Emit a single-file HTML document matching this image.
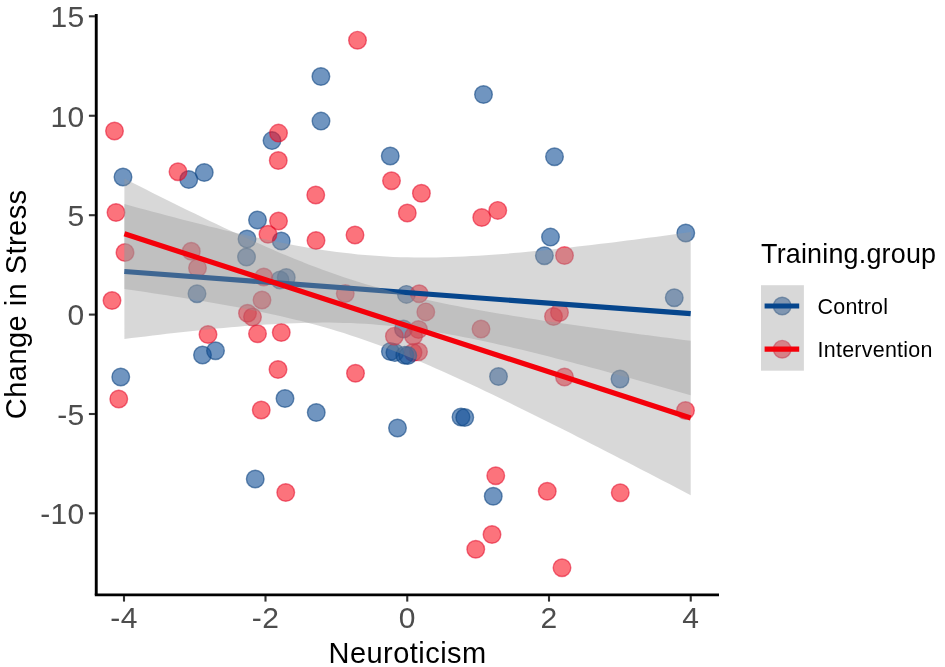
<!DOCTYPE html>
<html lang="en"><head><meta charset="utf-8"><title>Change in Stress vs Neuroticism</title>
<style>html,body{margin:0;padding:0;background:#fff}body{width:945px;height:667px;overflow:hidden}svg{display:block}</style>
</head><body>
<svg width="945" height="667" viewBox="0 0 945 667" font-family="Liberation Sans, sans-serif">
<rect width="945" height="667" fill="#fff"/>
<g id="pts">
<circle cx="418.5" cy="351.8" r="8.8" fill="rgba(250,13,30,0.58)" stroke="rgba(225,10,40,0.55)" stroke-width="1.4"/>
<circle cx="413" cy="352.5" r="8.8" fill="rgba(250,13,30,0.58)" stroke="rgba(225,10,40,0.55)" stroke-width="1.4"/>
<circle cx="123" cy="177" r="8.8" fill="rgba(16,78,150,0.6)" stroke="rgba(16,70,130,0.6)" stroke-width="1.4"/>
<circle cx="188.75" cy="179.5" r="8.8" fill="rgba(16,78,150,0.6)" stroke="rgba(16,70,130,0.6)" stroke-width="1.4"/>
<circle cx="204.25" cy="172.5" r="8.8" fill="rgba(16,78,150,0.6)" stroke="rgba(16,70,130,0.6)" stroke-width="1.4"/>
<circle cx="272" cy="140.6" r="8.8" fill="rgba(16,78,150,0.6)" stroke="rgba(16,70,130,0.6)" stroke-width="1.4"/>
<circle cx="320.9" cy="76.5" r="8.8" fill="rgba(16,78,150,0.6)" stroke="rgba(16,70,130,0.6)" stroke-width="1.4"/>
<circle cx="321" cy="121.1" r="8.8" fill="rgba(16,78,150,0.6)" stroke="rgba(16,70,130,0.6)" stroke-width="1.4"/>
<circle cx="257.5" cy="220" r="8.8" fill="rgba(16,78,150,0.6)" stroke="rgba(16,70,130,0.6)" stroke-width="1.4"/>
<circle cx="281.25" cy="241" r="8.8" fill="rgba(16,78,150,0.6)" stroke="rgba(16,70,130,0.6)" stroke-width="1.4"/>
<circle cx="247" cy="239" r="8.8" fill="rgba(16,78,150,0.6)" stroke="rgba(16,70,130,0.6)" stroke-width="1.4"/>
<circle cx="246.5" cy="257" r="8.8" fill="rgba(16,78,150,0.6)" stroke="rgba(16,70,130,0.6)" stroke-width="1.4"/>
<circle cx="197" cy="293.75" r="8.8" fill="rgba(16,78,150,0.6)" stroke="rgba(16,70,130,0.6)" stroke-width="1.4"/>
<circle cx="280" cy="280" r="8.8" fill="rgba(16,78,150,0.6)" stroke="rgba(16,70,130,0.6)" stroke-width="1.4"/>
<circle cx="286.25" cy="277.5" r="8.8" fill="rgba(16,78,150,0.6)" stroke="rgba(16,70,130,0.6)" stroke-width="1.4"/>
<circle cx="202.5" cy="355" r="8.8" fill="rgba(16,78,150,0.6)" stroke="rgba(16,70,130,0.6)" stroke-width="1.4"/>
<circle cx="215.5" cy="350.75" r="8.8" fill="rgba(16,78,150,0.6)" stroke="rgba(16,70,130,0.6)" stroke-width="1.4"/>
<circle cx="120.75" cy="377" r="8.8" fill="rgba(16,78,150,0.6)" stroke="rgba(16,70,130,0.6)" stroke-width="1.4"/>
<circle cx="285" cy="398.5" r="8.8" fill="rgba(16,78,150,0.6)" stroke="rgba(16,70,130,0.6)" stroke-width="1.4"/>
<circle cx="316.25" cy="412.5" r="8.8" fill="rgba(16,78,150,0.6)" stroke="rgba(16,70,130,0.6)" stroke-width="1.4"/>
<circle cx="255.25" cy="479" r="8.8" fill="rgba(16,78,150,0.6)" stroke="rgba(16,70,130,0.6)" stroke-width="1.4"/>
<circle cx="390.25" cy="156" r="8.8" fill="rgba(16,78,150,0.6)" stroke="rgba(16,70,130,0.6)" stroke-width="1.4"/>
<circle cx="483.5" cy="94.5" r="8.8" fill="rgba(16,78,150,0.6)" stroke="rgba(16,70,130,0.6)" stroke-width="1.4"/>
<circle cx="554.5" cy="156.75" r="8.8" fill="rgba(16,78,150,0.6)" stroke="rgba(16,70,130,0.6)" stroke-width="1.4"/>
<circle cx="550.5" cy="237.1" r="8.8" fill="rgba(16,78,150,0.6)" stroke="rgba(16,70,130,0.6)" stroke-width="1.4"/>
<circle cx="544.4" cy="255.75" r="8.8" fill="rgba(16,78,150,0.6)" stroke="rgba(16,70,130,0.6)" stroke-width="1.4"/>
<circle cx="685.75" cy="233" r="8.8" fill="rgba(16,78,150,0.6)" stroke="rgba(16,70,130,0.6)" stroke-width="1.4"/>
<circle cx="674.25" cy="297.75" r="8.8" fill="rgba(16,78,150,0.6)" stroke="rgba(16,70,130,0.6)" stroke-width="1.4"/>
<circle cx="406.4" cy="294.4" r="8.8" fill="rgba(16,78,150,0.6)" stroke="rgba(16,70,130,0.6)" stroke-width="1.4"/>
<circle cx="403.5" cy="329" r="8.8" fill="rgba(16,78,150,0.6)" stroke="rgba(16,70,130,0.6)" stroke-width="1.4"/>
<circle cx="390.4" cy="351.5" r="8.8" fill="rgba(16,78,150,0.6)" stroke="rgba(16,70,130,0.6)" stroke-width="1.4"/>
<circle cx="394.9" cy="352.6" r="8.8" fill="rgba(16,78,150,0.6)" stroke="rgba(16,70,130,0.6)" stroke-width="1.4"/>
<circle cx="404.8" cy="355.2" r="8.8" fill="rgba(16,78,150,0.6)" stroke="rgba(16,70,130,0.6)" stroke-width="1.4"/>
<circle cx="407.8" cy="355.6" r="8.8" fill="rgba(16,78,150,0.6)" stroke="rgba(16,70,130,0.6)" stroke-width="1.4"/>
<circle cx="498.5" cy="376.5" r="8.8" fill="rgba(16,78,150,0.6)" stroke="rgba(16,70,130,0.6)" stroke-width="1.4"/>
<circle cx="620" cy="379" r="8.8" fill="rgba(16,78,150,0.6)" stroke="rgba(16,70,130,0.6)" stroke-width="1.4"/>
<circle cx="397.5" cy="428" r="8.8" fill="rgba(16,78,150,0.6)" stroke="rgba(16,70,130,0.6)" stroke-width="1.4"/>
<circle cx="461" cy="417" r="8.8" fill="rgba(16,78,150,0.6)" stroke="rgba(16,70,130,0.6)" stroke-width="1.4"/>
<circle cx="464.75" cy="417.5" r="8.8" fill="rgba(16,78,150,0.6)" stroke="rgba(16,70,130,0.6)" stroke-width="1.4"/>
<circle cx="493.25" cy="496.25" r="8.8" fill="rgba(16,78,150,0.6)" stroke="rgba(16,70,130,0.6)" stroke-width="1.4"/>
<circle cx="114.5" cy="131" r="8.8" fill="rgba(250,13,30,0.58)" stroke="rgba(225,10,40,0.55)" stroke-width="1.4"/>
<circle cx="116" cy="212.5" r="8.8" fill="rgba(250,13,30,0.58)" stroke="rgba(225,10,40,0.55)" stroke-width="1.4"/>
<circle cx="125" cy="252.5" r="8.8" fill="rgba(250,13,30,0.58)" stroke="rgba(225,10,40,0.55)" stroke-width="1.4"/>
<circle cx="112" cy="300.5" r="8.8" fill="rgba(250,13,30,0.58)" stroke="rgba(225,10,40,0.55)" stroke-width="1.4"/>
<circle cx="118.75" cy="399" r="8.8" fill="rgba(250,13,30,0.58)" stroke="rgba(225,10,40,0.55)" stroke-width="1.4"/>
<circle cx="178" cy="171.75" r="8.8" fill="rgba(250,13,30,0.58)" stroke="rgba(225,10,40,0.55)" stroke-width="1.4"/>
<circle cx="191.25" cy="251.25" r="8.8" fill="rgba(250,13,30,0.58)" stroke="rgba(225,10,40,0.55)" stroke-width="1.4"/>
<circle cx="197.5" cy="268" r="8.8" fill="rgba(250,13,30,0.58)" stroke="rgba(225,10,40,0.55)" stroke-width="1.4"/>
<circle cx="208" cy="334.5" r="8.8" fill="rgba(250,13,30,0.58)" stroke="rgba(225,10,40,0.55)" stroke-width="1.4"/>
<circle cx="278.5" cy="133.1" r="8.8" fill="rgba(250,13,30,0.58)" stroke="rgba(225,10,40,0.55)" stroke-width="1.4"/>
<circle cx="278.25" cy="160.5" r="8.8" fill="rgba(250,13,30,0.58)" stroke="rgba(225,10,40,0.55)" stroke-width="1.4"/>
<circle cx="278.5" cy="221" r="8.8" fill="rgba(250,13,30,0.58)" stroke="rgba(225,10,40,0.55)" stroke-width="1.4"/>
<circle cx="268" cy="234.25" r="8.8" fill="rgba(250,13,30,0.58)" stroke="rgba(225,10,40,0.55)" stroke-width="1.4"/>
<circle cx="315.75" cy="195" r="8.8" fill="rgba(250,13,30,0.58)" stroke="rgba(225,10,40,0.55)" stroke-width="1.4"/>
<circle cx="316" cy="240.5" r="8.8" fill="rgba(250,13,30,0.58)" stroke="rgba(225,10,40,0.55)" stroke-width="1.4"/>
<circle cx="263.75" cy="277" r="8.8" fill="rgba(250,13,30,0.58)" stroke="rgba(225,10,40,0.55)" stroke-width="1.4"/>
<circle cx="262" cy="300" r="8.8" fill="rgba(250,13,30,0.58)" stroke="rgba(225,10,40,0.55)" stroke-width="1.4"/>
<circle cx="247.5" cy="313.25" r="8.8" fill="rgba(250,13,30,0.58)" stroke="rgba(225,10,40,0.55)" stroke-width="1.4"/>
<circle cx="252.5" cy="317" r="8.8" fill="rgba(250,13,30,0.58)" stroke="rgba(225,10,40,0.55)" stroke-width="1.4"/>
<circle cx="257.5" cy="333.75" r="8.8" fill="rgba(250,13,30,0.58)" stroke="rgba(225,10,40,0.55)" stroke-width="1.4"/>
<circle cx="281.25" cy="332.5" r="8.8" fill="rgba(250,13,30,0.58)" stroke="rgba(225,10,40,0.55)" stroke-width="1.4"/>
<circle cx="278" cy="369.5" r="8.8" fill="rgba(250,13,30,0.58)" stroke="rgba(225,10,40,0.55)" stroke-width="1.4"/>
<circle cx="261.25" cy="410" r="8.8" fill="rgba(250,13,30,0.58)" stroke="rgba(225,10,40,0.55)" stroke-width="1.4"/>
<circle cx="285.75" cy="492.5" r="8.8" fill="rgba(250,13,30,0.58)" stroke="rgba(225,10,40,0.55)" stroke-width="1.4"/>
<circle cx="357.5" cy="40.2" r="8.8" fill="rgba(250,13,30,0.58)" stroke="rgba(225,10,40,0.55)" stroke-width="1.4"/>
<circle cx="355" cy="235" r="8.8" fill="rgba(250,13,30,0.58)" stroke="rgba(225,10,40,0.55)" stroke-width="1.4"/>
<circle cx="345.25" cy="293.6" r="8.8" fill="rgba(250,13,30,0.58)" stroke="rgba(225,10,40,0.55)" stroke-width="1.4"/>
<circle cx="355.5" cy="373.25" r="8.8" fill="rgba(250,13,30,0.58)" stroke="rgba(225,10,40,0.55)" stroke-width="1.4"/>
<circle cx="391.5" cy="180.75" r="8.8" fill="rgba(250,13,30,0.58)" stroke="rgba(225,10,40,0.55)" stroke-width="1.4"/>
<circle cx="421.4" cy="193.25" r="8.8" fill="rgba(250,13,30,0.58)" stroke="rgba(225,10,40,0.55)" stroke-width="1.4"/>
<circle cx="407.3" cy="213" r="8.8" fill="rgba(250,13,30,0.58)" stroke="rgba(225,10,40,0.55)" stroke-width="1.4"/>
<circle cx="419.2" cy="293.75" r="8.8" fill="rgba(250,13,30,0.58)" stroke="rgba(225,10,40,0.55)" stroke-width="1.4"/>
<circle cx="425.8" cy="311.9" r="8.8" fill="rgba(250,13,30,0.58)" stroke="rgba(225,10,40,0.55)" stroke-width="1.4"/>
<circle cx="394.4" cy="336.2" r="8.8" fill="rgba(250,13,30,0.58)" stroke="rgba(225,10,40,0.55)" stroke-width="1.4"/>
<circle cx="418.5" cy="329.5" r="8.8" fill="rgba(250,13,30,0.58)" stroke="rgba(225,10,40,0.55)" stroke-width="1.4"/>
<circle cx="413.5" cy="336" r="8.8" fill="rgba(250,13,30,0.58)" stroke="rgba(225,10,40,0.55)" stroke-width="1.4"/>
<circle cx="481" cy="329" r="8.8" fill="rgba(250,13,30,0.58)" stroke="rgba(225,10,40,0.55)" stroke-width="1.4"/>
<circle cx="481.75" cy="217.5" r="8.8" fill="rgba(250,13,30,0.58)" stroke="rgba(225,10,40,0.55)" stroke-width="1.4"/>
<circle cx="497.75" cy="210.4" r="8.8" fill="rgba(250,13,30,0.58)" stroke="rgba(225,10,40,0.55)" stroke-width="1.4"/>
<circle cx="553.5" cy="316.5" r="8.8" fill="rgba(250,13,30,0.58)" stroke="rgba(225,10,40,0.55)" stroke-width="1.4"/>
<circle cx="559.5" cy="312.5" r="8.8" fill="rgba(250,13,30,0.58)" stroke="rgba(225,10,40,0.55)" stroke-width="1.4"/>
<circle cx="564.5" cy="255.5" r="8.8" fill="rgba(250,13,30,0.58)" stroke="rgba(225,10,40,0.55)" stroke-width="1.4"/>
<circle cx="564.5" cy="377" r="8.8" fill="rgba(250,13,30,0.58)" stroke="rgba(225,10,40,0.55)" stroke-width="1.4"/>
<circle cx="495.75" cy="475.75" r="8.8" fill="rgba(250,13,30,0.58)" stroke="rgba(225,10,40,0.55)" stroke-width="1.4"/>
<circle cx="547.25" cy="491.25" r="8.8" fill="rgba(250,13,30,0.58)" stroke="rgba(225,10,40,0.55)" stroke-width="1.4"/>
<circle cx="620.25" cy="492.75" r="8.8" fill="rgba(250,13,30,0.58)" stroke="rgba(225,10,40,0.55)" stroke-width="1.4"/>
<circle cx="492" cy="534.5" r="8.8" fill="rgba(250,13,30,0.58)" stroke="rgba(225,10,40,0.55)" stroke-width="1.4"/>
<circle cx="475.75" cy="549.25" r="8.8" fill="rgba(250,13,30,0.58)" stroke="rgba(225,10,40,0.55)" stroke-width="1.4"/>
<circle cx="562" cy="567.75" r="8.8" fill="rgba(250,13,30,0.58)" stroke="rgba(225,10,40,0.55)" stroke-width="1.4"/>
<circle cx="685.5" cy="410.5" r="8.8" fill="rgba(250,13,30,0.58)" stroke="rgba(225,10,40,0.55)" stroke-width="1.4"/>
</g>
<path d="M124.4,204.0 L131.5,205.9 L138.6,207.9 L145.6,209.8 L152.7,211.7 L159.8,213.6 L166.9,215.5 L174.0,217.3 L181.0,219.2 L188.1,221.0 L195.2,222.8 L202.3,224.6 L209.3,226.4 L216.4,228.1 L223.5,229.9 L230.6,231.5 L237.7,233.2 L244.7,234.8 L251.8,236.4 L258.9,238.0 L266.0,239.5 L273.1,241.0 L280.1,242.4 L287.2,243.8 L294.3,245.2 L301.4,246.4 L308.4,247.7 L315.5,248.8 L322.6,249.9 L329.7,251.0 L336.8,251.9 L343.8,252.8 L350.9,253.6 L358.0,254.4 L365.1,255.0 L372.2,255.6 L379.2,256.1 L386.3,256.5 L393.4,256.9 L400.5,257.2 L407.6,257.3 L414.6,257.5 L421.7,257.5 L428.8,257.5 L435.9,257.4 L442.9,257.3 L450.0,257.1 L457.1,256.8 L464.2,256.5 L471.3,256.1 L478.3,255.7 L485.4,255.3 L492.5,254.8 L499.6,254.2 L506.7,253.7 L513.7,253.1 L520.8,252.5 L527.9,251.8 L535.0,251.1 L542.0,250.4 L549.1,249.7 L556.2,248.9 L563.3,248.2 L570.4,247.4 L577.4,246.6 L584.5,245.8 L591.6,244.9 L598.7,244.1 L605.8,243.2 L612.8,242.4 L619.9,241.5 L627.0,240.6 L634.1,239.7 L641.1,238.8 L648.2,237.8 L655.3,236.9 L662.4,236.0 L669.5,235.0 L676.5,234.1 L683.6,233.1 L690.7,232.1 L690.7,395.3 L683.6,393.2 L676.5,391.2 L669.5,389.2 L662.4,387.2 L655.3,385.2 L648.2,383.2 L641.1,381.3 L634.1,379.3 L627.0,377.3 L619.9,375.4 L612.8,373.4 L605.8,371.5 L598.7,369.6 L591.6,367.7 L584.5,365.8 L577.4,363.9 L570.4,362.1 L563.3,360.2 L556.2,358.4 L549.1,356.6 L542.0,354.8 L535.0,353.1 L527.9,351.3 L520.8,349.6 L513.7,347.9 L506.7,346.3 L499.6,344.7 L492.5,343.1 L485.4,341.5 L478.3,340.0 L471.3,338.6 L464.2,337.2 L457.1,335.8 L450.0,334.5 L442.9,333.2 L435.9,332.0 L428.8,330.9 L421.7,329.8 L414.6,328.8 L407.6,327.9 L400.5,327.0 L393.4,326.2 L386.3,325.5 L379.2,324.9 L372.2,324.3 L365.1,323.8 L358.0,323.4 L350.9,323.1 L343.8,322.9 L336.8,322.7 L329.7,322.6 L322.6,322.6 L315.5,322.7 L308.4,322.8 L301.4,322.9 L294.3,323.2 L287.2,323.4 L280.1,323.8 L273.1,324.2 L266.0,324.6 L258.9,325.0 L251.8,325.6 L244.7,326.1 L237.7,326.7 L230.6,327.3 L223.5,327.9 L216.4,328.6 L209.3,329.3 L202.3,330.0 L195.2,330.7 L188.1,331.5 L181.0,332.2 L174.0,333.0 L166.9,333.8 L159.8,334.7 L152.7,335.5 L145.6,336.4 L138.6,337.2 L131.5,338.1 L124.4,339.0Z" fill="rgba(153,153,153,0.385)"/>
<line x1="124.4" y1="271.50" x2="690.7" y2="313.70" stroke="#06468d" stroke-width="5.2"/>
<path d="M124.4,178.6 L131.5,182.2 L138.6,185.7 L145.6,189.3 L152.7,192.9 L159.8,196.4 L166.9,199.9 L174.0,203.4 L181.0,206.9 L188.1,210.4 L195.2,213.8 L202.3,217.3 L209.3,220.7 L216.4,224.0 L223.5,227.4 L230.6,230.7 L237.7,234.0 L244.7,237.2 L251.8,240.5 L258.9,243.6 L266.0,246.8 L273.1,249.8 L280.1,252.9 L287.2,255.8 L294.3,258.8 L301.4,261.6 L308.4,264.4 L315.5,267.1 L322.6,269.7 L329.7,272.3 L336.8,274.8 L343.8,277.2 L350.9,279.6 L358.0,281.8 L365.1,284.0 L372.2,286.1 L379.2,288.1 L386.3,290.0 L393.4,291.9 L400.5,293.7 L407.6,295.4 L414.6,297.1 L421.7,298.7 L428.8,300.3 L435.9,301.8 L442.9,303.3 L450.0,304.7 L457.1,306.1 L464.2,307.4 L471.3,308.7 L478.3,310.0 L485.4,311.3 L492.5,312.5 L499.6,313.7 L506.7,314.8 L513.7,316.0 L520.8,317.1 L527.9,318.2 L535.0,319.3 L542.0,320.4 L549.1,321.5 L556.2,322.5 L563.3,323.6 L570.4,324.6 L577.4,325.6 L584.5,326.6 L591.6,327.6 L598.7,328.6 L605.8,329.6 L612.8,330.5 L619.9,331.5 L627.0,332.5 L634.1,333.4 L641.1,334.4 L648.2,335.3 L655.3,336.2 L662.4,337.2 L669.5,338.1 L676.5,339.0 L683.6,339.9 L690.7,340.8 L690.7,495.2 L683.6,491.5 L676.5,487.8 L669.5,484.1 L662.4,480.4 L655.3,476.8 L648.2,473.1 L641.1,469.4 L634.1,465.8 L627.0,462.1 L619.9,458.5 L612.8,454.8 L605.8,451.2 L598.7,447.5 L591.6,443.9 L584.5,440.3 L577.4,436.7 L570.4,433.1 L563.3,429.6 L556.2,426.0 L549.1,422.4 L542.0,418.9 L535.0,415.4 L527.9,411.9 L520.8,408.4 L513.7,404.9 L506.7,401.4 L499.6,398.0 L492.5,394.6 L485.4,391.2 L478.3,387.8 L471.3,384.5 L464.2,381.2 L457.1,378.0 L450.0,374.7 L442.9,371.5 L435.9,368.4 L428.8,365.3 L421.7,362.3 L414.6,359.3 L407.6,356.4 L400.5,353.5 L393.4,350.7 L386.3,348.0 L379.2,345.3 L372.2,342.7 L365.1,340.2 L358.0,337.8 L350.9,335.4 L343.8,333.1 L336.8,330.9 L329.7,328.8 L322.6,326.8 L315.5,324.8 L308.4,322.9 L301.4,321.1 L294.3,319.4 L287.2,317.7 L280.1,316.0 L273.1,314.5 L266.0,312.9 L258.9,311.5 L251.8,310.0 L244.7,308.6 L237.7,307.3 L230.6,306.0 L223.5,304.7 L216.4,303.4 L209.3,302.2 L202.3,301.0 L195.2,299.8 L188.1,298.7 L181.0,297.5 L174.0,296.4 L166.9,295.3 L159.8,294.2 L152.7,293.2 L145.6,292.1 L138.6,291.1 L131.5,290.0 L124.4,289.0Z" fill="rgba(153,153,153,0.385)"/>
<line x1="124.4" y1="233.80" x2="690.7" y2="418.00" stroke="#f4000a" stroke-width="5.2"/>
<g stroke="#000" fill="none">
<path d="M96.25,13.9 V594.9" stroke-width="2.9"/>
<path d="M94.8,594.9 H719" stroke-width="2.9"/>
</g>
<g stroke="#333" stroke-width="2.1">
<path d="M88.9,16.3 H95"/>
<path d="M88.9,115.75 H95"/>
<path d="M88.9,215.2 H95"/>
<path d="M88.9,314.6 H95"/>
<path d="M88.9,414.0 H95"/>
<path d="M88.9,513.3 H95"/>
<path d="M124,596 V601.6"/>
<path d="M265.5,596 V601.6"/>
<path d="M407.25,596 V601.6"/>
<path d="M549,596 V601.6"/>
<path d="M690.75,596 V601.6"/>
</g>
<g fill="#4d4d4d" font-size="30.0" letter-spacing="0.3">
<text x="84.5" y="27.0" text-anchor="end">15</text>
<text x="84.5" y="126.5" text-anchor="end">10</text>
<text x="84.5" y="225.9" text-anchor="end">5</text>
<text x="84.5" y="325.3" text-anchor="end">0</text>
<text x="84.5" y="424.7" text-anchor="end">-5</text>
<text x="84.5" y="524.0" text-anchor="end">-10</text>
<text x="124" y="628.3" text-anchor="middle">-4</text>
<text x="265.5" y="628.3" text-anchor="middle">-2</text>
<text x="407.25" y="628.3" text-anchor="middle">0</text>
<text x="549" y="628.3" text-anchor="middle">2</text>
<text x="690.75" y="628.3" text-anchor="middle">4</text>
</g>
<text x="407.6" y="663.2" text-anchor="middle" letter-spacing="0.45" font-size="29.0" fill="#000">Neuroticism</text>
<text transform="translate(25.6,304.3) rotate(-90)" text-anchor="middle" letter-spacing="0.45" font-size="29.0" fill="#000">Change in Stress</text>
<text x="761" y="263.3" letter-spacing="0.2" font-size="26.9" fill="#000">Training.group</text>
<circle cx="782.2" cy="306" r="8.8" fill="rgba(16,78,150,0.6)" stroke="rgba(16,70,130,0.6)" stroke-width="1.4"/>
<circle cx="782.2" cy="349.2" r="8.8" fill="rgba(250,13,30,0.58)" stroke="rgba(225,10,40,0.55)" stroke-width="1.4"/>
<rect x="761" y="285.2" width="42.9" height="85.5" fill="rgba(153,153,153,0.385)"/>
<line x1="764.6" x2="799.2" y1="306" y2="306" stroke="#06468d" stroke-width="5.2"/>
<line x1="764.6" x2="799.2" y1="349.2" y2="349.2" stroke="#f4000a" stroke-width="5.2"/>
<text x="817.6" y="313.6" letter-spacing="0.2" font-size="21.45" fill="#000">Control</text>
<text x="817.6" y="356.8" letter-spacing="0.25" font-size="21.45" fill="#000">Intervention</text>
</svg>
</body></html>
